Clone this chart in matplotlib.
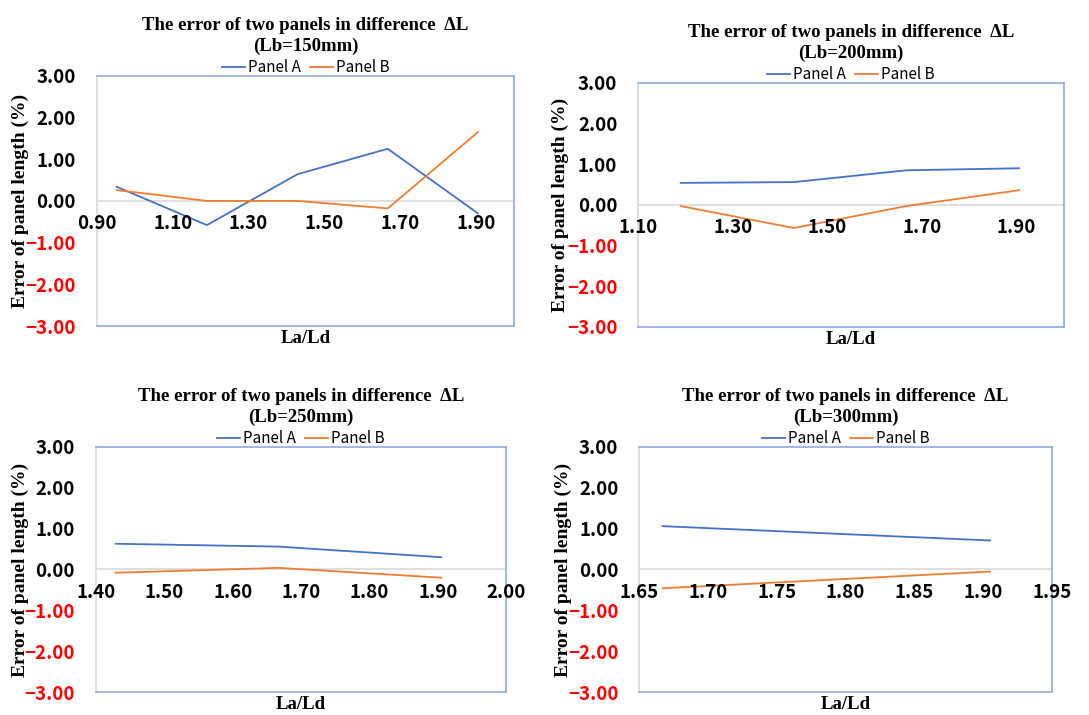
import matplotlib.pyplot as plt
from matplotlib.ticker import FixedLocator

# La/Ld values for each case
x150 = [0.952, 1.190, 1.429, 1.667, 1.905]
a150 = [0.34, -0.58, 0.64, 1.25, -0.30]
b150 = [0.26, 0.00, 0.00, -0.18, 1.65]

x200 = [1.190, 1.429, 1.667, 1.905]
a200 = [0.54, 0.56, 0.85, 0.90]
b200 = [-0.03, -0.57, -0.03, 0.36]

x250 = [1.429, 1.667, 1.905]
a250 = [0.63, 0.56, 0.30]
b250 = [-0.08, 0.04, -0.20]

x300 = [1.667, 1.905]
a300 = [1.06, 0.71]
b300 = [-0.46, -0.05]

lb_labels = ['150', '200', '250', '300']
xlims = [(0.9, 2.0), (1.1, 2.0), (1.4, 2.0), (1.65, 1.95)]
xticks = [[0.9, 1.1, 1.3, 1.5, 1.7, 1.9],
          [1.1, 1.3, 1.5, 1.7, 1.9],
          [1.4, 1.5, 1.6, 1.7, 1.8, 1.9, 2.0],
          [1.65, 1.70, 1.75, 1.80, 1.85, 1.90, 1.95]]
yticks = [3, 2, 1, 0, -1, -2, -3]

series = [(x150, a150, b150), (x200, a200, b200), (x250, a250, b250), (x300, a300, b300)]

# axes rectangles [left, bottom, width, height] in figure fractions
rects = [[0.089, 0.544, 0.383, 0.350],
         [0.586, 0.543, 0.391, 0.341],
         [0.088, 0.032, 0.377, 0.343],
         [0.587, 0.032, 0.379, 0.343]]

blue = '#4472C4'
orange = '#ED7D31'
border = '#8FAADC'
grey = '#D9D9D9'
serif = 'Liberation Serif'
sans = 'Noto Sans CJK SC'

fig = plt.figure(figsize=(10.89, 7.15), dpi=100)

for i in range(4):
    ax = fig.add_axes(rects[i])
    xs, a, b = series[i]
    la, = ax.plot(xs, a, color=blue, lw=1.3, label='Panel A')
    lb, = ax.plot(xs, b, color=orange, lw=1.3, label='Panel B')
    ax.set_xlim(*xlims[i])
    ax.set_ylim(-3, 3)

    ax.axhline(0, color=grey, lw=1.2, zorder=0)
    for s in ['top', 'right', 'bottom']:
        ax.spines[s].set_color(border)
        ax.spines[s].set_linewidth(1.2)
    ax.spines['left'].set_color(grey)
    ax.spines['left'].set_linewidth(1.2)

    ax.yaxis.set_major_locator(FixedLocator(yticks))
    ax.set_yticklabels(['%.2f' % v if v >= 0 else '\u2212%.2f' % -v for v in yticks],
                       fontsize=13.5, fontfamily=sans, fontweight='bold')
    for t, v in zip(ax.get_yticklabels(), yticks):
        if v < 0:
            t.set_color('red')
    ax.tick_params(axis='y', length=0, pad=15)

    # x tick labels sit just under the zero line
    ax.set_xticks([])
    for v in xticks[i]:
        ax.annotate('%.2f' % v, (v, 0), xytext=(0, -9.5), textcoords='offset points',
                    ha='center', va='top', fontsize=13.5, fontfamily=sans,
                    fontweight='bold', annotation_clip=False)

    ax.set_ylabel('Error of panel length (%)', fontfamily=serif, fontweight='bold',
                  fontsize=14)
    ax.yaxis.set_label_coords(-0.162, 0.5)
    ax.set_xlabel('La/Ld', fontfamily=serif, fontweight='bold', fontsize=13.5, labelpad=3)

    ax.set_title('The error of two panels in difference  \u0394L\n(Lb=%smm)' % lb_labels[i],
                 fontfamily=serif, fontweight='bold', fontsize=13.5, pad=18,
                 linespacing=1.25)
    ax.legend(handles=[la, lb], loc='lower center', bbox_to_anchor=(0.5, 0.975),
              ncol=2, frameon=False, handlelength=1.5,
              handletextpad=0.2, columnspacing=0.6, borderaxespad=0.0,
              prop={'family': sans, 'size': 11})

fig.savefig('out.png', dpi=100)
